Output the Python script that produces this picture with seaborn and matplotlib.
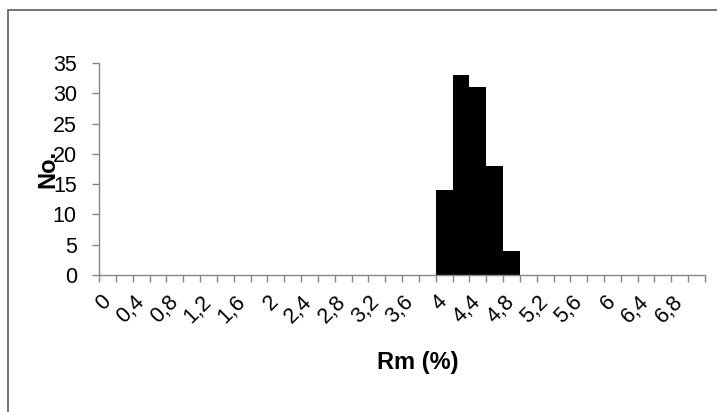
import matplotlib
matplotlib.use("Agg")
import matplotlib.pyplot as plt
import seaborn as sns
import pandas as pd
import numpy as np

# Category values of the histogram bins (Rm %)
categories = ["0", "0,2", "0,4", "0,6", "0,8", "1", "1,2", "1,4", "1,6", "1,8",
              "2", "2,2", "2,4", "2,6", "2,8", "3", "3,2", "3,4", "3,6", "3,8",
              "4", "4,2", "4,4", "4,6", "4,8", "5", "5,2", "5,4", "5,6", "5,8",
              "6", "6,2", "6,4", "6,6", "6,8", "7"]
counts = [0, 0, 0, 0, 0, 0, 0, 0, 0, 0,
          0, 0, 0, 0, 0, 0, 0, 0, 0, 0,
          14, 33, 31, 18, 4, 0, 0, 0, 0, 0,
          0, 0, 0, 0, 0, 0]
tick_labels = ["0", "", "0,4", "", "0,8", "", "1,2", "", "1,6", "",
               "2", "", "2,4", "", "2,8", "", "3,2", "", "3,6", "",
               "4", "", "4,4", "", "4,8", "", "5,2", "", "5,6", "",
               "6", "", "6,4", "", "6,8", ""]
y_ticks = [0, 5, 10, 15, 20, 25, 30, 35]

sns.set_theme(style="white")
plt.rcParams['font.family'] = ['Liberation Sans', 'DejaVu Sans']

W, H = 717, 412
fig = plt.figure(figsize=(W / 100, H / 100), dpi=100)
ax = fig.add_axes([99 / W, (H - 275) / H, (705 - 99) / W, (275 - 63) / H])

df = pd.DataFrame({"Rm": categories, "No": counts})
sns.barplot(data=df, x="Rm", y="No", order=categories, color="black",
            saturation=1, width=1.0, ax=ax, linewidth=0)

axis_col = "#868686"
ax.set_xlim(-0.5, len(categories) - 0.5)
ax.set_ylim(0, 35)
ax.set_yticks(y_ticks)
ax.set_yticklabels([str(v) for v in y_ticks], fontsize=15.5, color="black")
ax.set_xticks(range(len(categories)))
ax.set_xticklabels(tick_labels, fontsize=15.5, rotation=45, ha="right",
                   va="center", rotation_mode="anchor", color="black")
ax.set_xticks(np.arange(-0.5, len(categories), 1), minor=True)
ax.tick_params(axis="x", which="major", length=0, pad=17)
ax.tick_params(axis="x", which="minor", length=5, width=1, color=axis_col,
               direction="out", bottom=True)
ax.tick_params(axis="y", which="major", length=5, width=1, color=axis_col,
               direction="out", left=True, pad=11)

for s in ["top", "right"]:
    ax.spines[s].set_visible(False)
for s in ["left", "bottom"]:
    ax.spines[s].set_color(axis_col)
    ax.spines[s].set_linewidth(1)

ax.set_xlabel("")
ax.set_ylabel("No.", fontsize=17, fontweight="bold", color="black")
ax.yaxis.set_label_coords((59 - 99) / (705 - 99), 0.5)
fig.text(418 / W, 1 - 363 / H, "Rm (%)", fontsize=17, fontweight="bold",
         ha="center", va="center", color="black")

# outer chart border (only top and left visible)
border = plt.Rectangle((7.5 / W, -0.1), 1.2, 1.1 - 10.5 / H,
                       transform=fig.transFigure, fill=False,
                       edgecolor="#5a5a5a", linewidth=1.2)
fig.add_artist(border)

fig.savefig("out.png", dpi=100)
